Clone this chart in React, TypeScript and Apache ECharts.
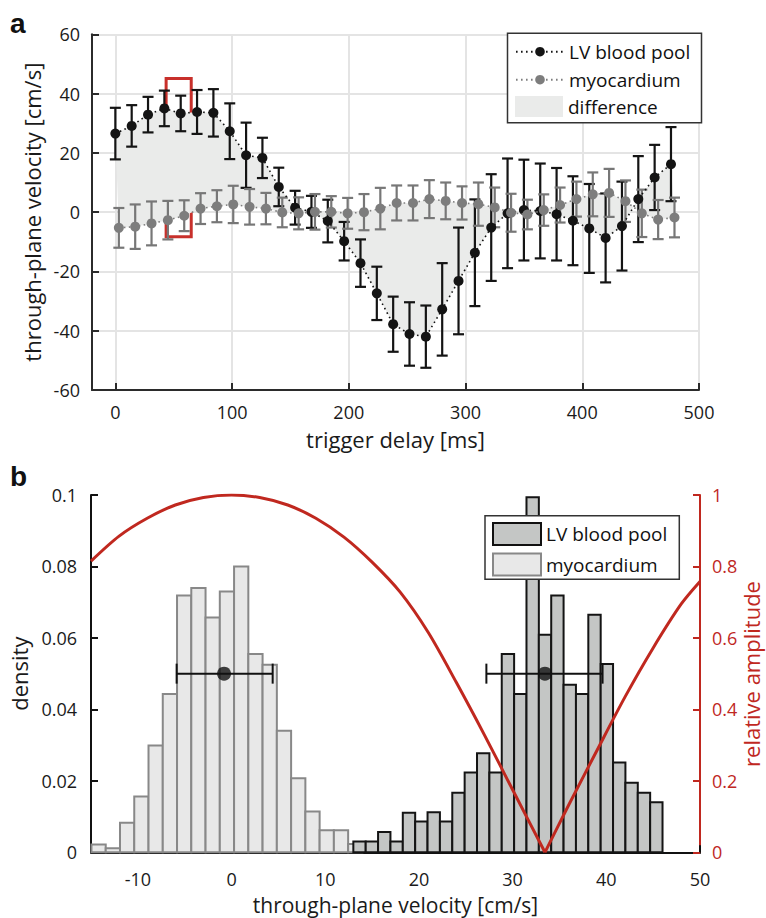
import React, { useEffect, useRef } from "react";
import * as echarts from "echarts";

// ---------- panel a data ----------
const lvDelays = [0, 14, 28, 42, 56, 70, 84, 98, 112, 126, 140, 154, 168, 182, 196, 210, 224, 238, 252, 266, 280, 294, 308, 322, 336, 350, 364, 378, 392, 406, 420, 434, 448, 462, 476];
const lvVelocity = [26.5, 29.1, 32.9, 35.0, 33.3, 33.8, 33.5, 27.3, 19.2, 18.3, 8.5, 1.5, 0.1, -3.0, -9.8, -17.2, -27.4, -37.8, -41.1, -42.0, -32.8, -23.2, -13.7, -5.2, -0.4, 0.7, 0.4, -0.7, -2.9, -5.5, -8.7, -4.7, 4.4, 11.7, 16.2];
const lvError = [8.7, 7.0, 6.0, 6.0, 6.0, 7.4, 8.0, 9.4, 11.0, 6.8, 6.5, 5.7, 5.4, 7.2, 6.5, 8.0, 9.0, 9.3, 10.7, 10.5, 15.6, 18.0, 18.0, 18.0, 18.5, 17.0, 16.0, 15.6, 15.0, 15.0, 15.0, 15.0, 14.5, 11.0, 12.5];
const myoDelays = [3, 17, 31, 45, 59, 73, 87, 101, 115, 129, 143, 157, 171, 185, 199, 213, 227, 241, 255, 269, 283, 297, 311, 325, 339, 353, 367, 381, 395, 409, 423, 437, 451, 465, 479];
const myoVelocity = [-5.3, -4.9, -3.8, -2.7, -1.2, 1.2, 2.0, 2.6, 1.8, 1.2, -0.1, -0.4, 0.1, 0.1, -0.4, 0.0, 1.2, 3.1, 3.1, 4.4, 3.8, 3.1, 2.7, 1.6, -0.2, -0.8, 0.7, 2.4, 4.4, 6.0, 6.5, 3.7, -0.4, -2.5, -1.8];
const myoError = [6.7, 7.5, 7.4, 6.5, 5.2, 5.2, 5.4, 6.3, 6.0, 5.3, 5.0, 5.4, 6.0, 5.3, 5.2, 6.1, 7.0, 5.9, 5.9, 6.4, 6.2, 5.6, 7.3, 6.7, 6.4, 5.0, 5.3, 5.9, 5.9, 7.4, 8.1, 7.0, 8.0, 6.6, 6.7];
const highlightDelay = [43.5, 65];
const highlightVelocity = [45.1, -8.3];

// ---------- panel b data ----------
const lvBinStart = 13.0;
const lvBinWidth = 1.32;
const lvDensity = [0.003, 0.003, 0.0057, 0.003, 0.0111, 0.0086, 0.0112, 0.0086, 0.0167, 0.0223, 0.0277, 0.0223, 0.0555, 0.0443, 0.0994, 0.0609, 0.0719, 0.0469, 0.0443, 0.0665, 0.0527, 0.0251, 0.0195, 0.0167, 0.014];
const myoBinStart = -14.95;
const myoBinWidth = 1.522;
const myoDensity = [0.0022, 0.0011, 0.0083, 0.0156, 0.0299, 0.0443, 0.0719, 0.074, 0.0657, 0.073, 0.08, 0.0555, 0.0525, 0.034, 0.0207, 0.0114, 0.0062, 0.0062, 0.0023];
const lvMean = 33.45, lvLow = 27.2, lvHigh = 39.6;
const myoMean = -0.8, myoLow = -5.86, myoHigh = 4.39;
const markerDensity = 0.05;
const ampLeft: [number, number][] = [[-15, 0.815], [-12, 0.885], [-9, 0.935], [-6, 0.972], [-3, 0.993], [0, 1.0], [3, 0.993], [6, 0.972], [9, 0.935], [12, 0.882], [15, 0.812], [18, 0.728], [21, 0.615], [24, 0.475], [27, 0.328], [30, 0.175], [33.45, 0]];
const ampRight: [number, number][] = [[33.45, 0], [36, 0.133], [39, 0.285], [42, 0.435], [45, 0.572], [48, 0.695], [50, 0.758]];

const FONT = "'Open Sans', 'Noto Sans', sans-serif";
const RED = "#c0281f";
const AXIS = "#2b2b2b";

function errorBarSeries(name: string, xs: number[], vs: number[], es: number[], color: string) {
  return {
    type: "custom",
    name,
    xAxisIndex: 0,
    yAxisIndex: 0,
    silent: true,
    data: xs.map((x, i) => [x, vs[i] - es[i], vs[i] + es[i]]),
    encode: { x: 0, y: [1, 2] },
    renderItem: (_p: any, api: any) => {
      const x = api.value(0);
      const top = api.coord([x, api.value(2)]);
      const bot = api.coord([x, api.value(1)]);
      const hw = 5.5;
      const st = { stroke: color, lineWidth: 2.2 };
      return {
        type: "group",
        children: [
          { type: "line", shape: { x1: top[0], y1: top[1], x2: bot[0], y2: bot[1] }, style: st },
          { type: "line", shape: { x1: top[0] - hw, y1: top[1], x2: top[0] + hw, y2: top[1] }, style: st },
          { type: "line", shape: { x1: bot[0] - hw, y1: bot[1], x2: bot[0] + hw, y2: bot[1] }, style: st },
        ],
      };
    },
  };
}

function histSeries(name: string, start: number, width: number, dens: number[], fill: string, stroke: string, z: number) {
  return {
    type: "custom",
    name,
    xAxisIndex: 1,
    yAxisIndex: 1,
    z,
    silent: true,
    itemStyle: { color: fill, borderColor: stroke },
    data: dens.map((d, i) => [start + i * width, start + (i + 1) * width, d]),
    encode: { x: [0, 1], y: 2 },
    renderItem: (_p: any, api: any) => {
      const p0 = api.coord([api.value(0), api.value(2)]);
      const p1 = api.coord([api.value(1), 0]);
      return {
        type: "rect",
        shape: { x: p0[0], y: p0[1], width: p1[0] - p0[0], height: p1[1] - p0[1] },
        style: { fill, stroke, lineWidth: 2 },
      };
    },
  };
}

function hErrorSeries(name: string, lo: number, hi: number, y: number) {
  return {
    type: "custom",
    name,
    xAxisIndex: 1,
    yAxisIndex: 1,
    z: 6,
    silent: true,
    data: [[lo, hi, y]],
    encode: { x: [0, 1], y: 2 },
    renderItem: (_p: any, api: any) => {
      const a = api.coord([api.value(0), api.value(2)]);
      const b = api.coord([api.value(1), api.value(2)]);
      const hh = 10;
      const st = { stroke: "#111", lineWidth: 2 };
      return {
        type: "group",
        children: [
          { type: "line", shape: { x1: a[0], y1: a[1], x2: b[0], y2: b[1] }, style: st },
          { type: "line", shape: { x1: a[0], y1: a[1] - hh, x2: a[0], y2: a[1] + hh }, style: st },
          { type: "line", shape: { x1: b[0], y1: b[1] - hh, x2: b[0], y2: b[1] + hh }, style: st },
        ],
      };
    },
  };
}

const histNames: Record<string, string> = { histLV: "LV blood pool", histMyo: "myocardium" };

export default function App() {
  const ref = useRef<HTMLDivElement>(null);
  useEffect(() => {
    if (!ref.current) return;
    const chart = echarts.init(ref.current, undefined, { renderer: "svg" });
    const axisLabel = { fontSize: 18, color: "#1a1a1a", fontFamily: FONT };
    const nameStyle = { fontSize: 22, color: "#1a1a1a", fontFamily: FONT };
    const legendText = { fontSize: 19, color: "#111", fontFamily: FONT };
    const option: any = {
      animation: false,
      backgroundColor: "#ffffff",
      textStyle: { fontFamily: FONT },
      grid: [
        { left: 92, right: 67, top: 34.3, bottom: 528, containLabel: false, outerBoundsMode: "none" },
        { left: 91, right: 66, top: 495, bottom: 65.7, containLabel: false, outerBoundsMode: "none" },
      ],
      xAxis: [
        {
          type: "value",
          gridIndex: 0,
          min: -20,
          max: 500,
          splitNumber: 5,
          axisLine: { onZero: false, lineStyle: { color: AXIS, width: 2 } },
          axisTick: { inside: true, length: 7, lineStyle: { color: AXIS, width: 2 } },
          axisLabel: { ...axisLabel, margin: 13, showMinLabel: false },
          splitLine: { show: true, lineStyle: { color: "#e4e4e4", width: 2 } },
          name: "trigger delay [ms]",
          nameLocation: "middle",
          nameGap: 38,
          nameTextStyle: nameStyle,
        },
        {
          type: "value",
          gridIndex: 1,
          min: -15,
          max: 50,
          splitNumber: 6,
          axisLine: { onZero: false, lineStyle: { color: "#111", width: 2 } },
          axisTick: { inside: true, length: 7, lineStyle: { color: "#111", width: 2 } },
          axisLabel: { ...axisLabel, margin: 18, lineHeight: 18, showMinLabel: false },
          splitLine: { show: false },
          name: "through-plane velocity [cm/s]",
          nameLocation: "middle",
          nameGap: 42,
          nameTextStyle: { ...nameStyle, fontSize: 21, lineHeight: 21 },
        },
      ],
      yAxis: [
        {
          type: "value",
          gridIndex: 0,
          min: -60,
          max: 60,
          interval: 20,
          axisLine: { show: true, onZero: false, lineStyle: { color: AXIS, width: 2 } },
          axisTick: { show: true, inside: true, length: 7, lineStyle: { color: AXIS, width: 2 } },
          axisLabel: { ...axisLabel, margin: 12 },
          splitLine: { show: true, lineStyle: { color: "#e4e4e4", width: 2 } },
          name: "through-plane velocity [cm/s]",
          nameLocation: "middle",
          nameGap: 39,
          nameTextStyle: nameStyle,
        },
        {
          type: "value",
          gridIndex: 1,
          min: 0,
          max: 0.1,
          interval: 0.02,
          axisLine: { show: true, onZero: false, lineStyle: { color: "#111", width: 2 } },
          axisTick: { show: true, inside: true, length: 7, lineStyle: { color: "#111", width: 2 } },
          axisLabel: { ...axisLabel, margin: 14 },
          splitLine: { show: false },
          name: "density",
          nameLocation: "middle",
          nameGap: 48,
          nameTextStyle: nameStyle,
        },
        {
          type: "value",
          gridIndex: 1,
          position: "right",
          min: 0,
          max: 1,
          interval: 0.2,
          axisLine: { show: true, onZero: false, lineStyle: { color: RED, width: 2 } },
          axisTick: { show: true, inside: true, length: 7, lineStyle: { color: RED, width: 2 } },
          axisLabel: { ...axisLabel, color: RED, margin: 12 },
          splitLine: { show: false },
        },
      ],
      legend: [
        {
          data: ["LV blood pool", "myocardium"],
          orient: "vertical",
          left: 515,
          top: 41.7,
          padding: 0,
          itemWidth: 48,
          itemHeight: 12,
          itemGap: 8,
          z: 20,
          selectedMode: false,
          textStyle: { ...legendText, lineHeight: 20 },
        },
        {
          data: [{ name: "difference", icon: "rect", itemStyle: { color: "#eaebea", borderWidth: 0 } }],
          orient: "vertical",
          left: 515,
          top: 96,
          padding: 0,
          itemWidth: 48,
          itemHeight: 21,
          z: 20,
          selectedMode: false,
          textStyle: { ...legendText, lineHeight: 21 },
        },
        {
          data: [
            { name: "histLV", icon: "rect", itemStyle: { color: "#c4c6c5", borderColor: "#111", borderWidth: 2 } },
            { name: "histMyo", icon: "rect", itemStyle: { color: "#e8e8e8", borderColor: "#888", borderWidth: 2 } },
          ],
          formatter: (n: string) => histNames[n] || n,
          orient: "vertical",
          left: 492,
          top: 522,
          padding: 0,
          itemWidth: 48,
          itemHeight: 22,
          itemGap: 6.5,
          z: 20,
          selectedMode: false,
          textStyle: { ...legendText, lineHeight: 22 },
        },
      ],
      graphic: [
        { type: "rect", z: 10, shape: { x: 507.5, y: 33.3, width: 194, height: 89.4 }, style: { fill: "#fff", stroke: "#333", lineWidth: 1.5 } },
        { type: "rect", z: 10, shape: { x: 485, y: 515.7, width: 194.3, height: 63.6 }, style: { fill: "#fff", stroke: "#333", lineWidth: 1.5 } },
        { type: "text", z: 10, x: 10, y: 23.5, style: { text: "a", font: "bold 28px 'Liberation Sans', Arial, sans-serif", fill: "#111", verticalAlign: "middle" } },
        { type: "text", z: 10, x: 10, y: 476, style: { text: "b", font: "bold 28px 'Liberation Sans', Arial, sans-serif", fill: "#111", verticalAlign: "middle" } },
        {
          type: "text",
          z: 10,
          x: 751,
          y: 674,
          rotation: Math.PI / 2,
          style: { text: "relative amplitude", font: `22px ${FONT}`, fill: RED, align: "center", verticalAlign: "middle" },
        },
      ],
      series: [
        {
          type: "custom",
          name: "difference",
          xAxisIndex: 0,
          yAxisIndex: 0,
          silent: true,
          z: 1,
          itemStyle: { color: "#eaebea" },
          data: [[0, 0]],
          renderItem: (_p: any, api: any) => {
            const pts: number[][] = [];
            lvDelays.forEach((d, i) => pts.push(api.coord([d, lvVelocity[i]])));
            for (let i = myoDelays.length - 1; i >= 0; i--) pts.push(api.coord([myoDelays[i], myoVelocity[i]]));
            return { type: "polygon", shape: { points: pts }, style: { fill: "#eaebea" } };
          },
        },
        errorBarSeries("lvErr", lvDelays, lvVelocity, lvError, "#141414"),
        {
          type: "line",
          name: "LV blood pool",
          xAxisIndex: 0,
          yAxisIndex: 0,
          z: 3,
          data: lvDelays.map((d, i) => [d, lvVelocity[i]]),
          symbol: "circle",
          symbolSize: 10,
          itemStyle: { color: "#141414" },
          lineStyle: { color: "#141414", width: 1.6, type: [1.6, 3.4] },
          markArea: {
            silent: true,
            label: { show: false },
            itemStyle: { color: "rgba(0,0,0,0)", borderColor: "#c8302b", borderWidth: 3 },
            data: [[{ coord: [highlightDelay[0], highlightVelocity[0]] }, { coord: [highlightDelay[1], highlightVelocity[1]] }]],
          },
        },
        errorBarSeries("myoErr", myoDelays, myoVelocity, myoError, "#777777"),
        {
          type: "line",
          name: "myocardium",
          xAxisIndex: 0,
          yAxisIndex: 0,
          z: 4,
          data: myoDelays.map((d, i) => [d, myoVelocity[i]]),
          symbol: "circle",
          symbolSize: 10,
          itemStyle: { color: "#7d7d7d" },
          lineStyle: { color: "#7d7d7d", width: 1.6, type: [1.6, 3.4] },
        },
        histSeries("histMyo", myoBinStart, myoBinWidth, myoDensity, "#e8e8e8", "#888888", 2),
        histSeries("histLV", lvBinStart, lvBinWidth, lvDensity, "#c4c6c5", "#141414", 3),
        {
          type: "line",
          name: "ampLeft",
          xAxisIndex: 1,
          yAxisIndex: 2,
          z: 5,
          data: ampLeft,
          symbol: "none",
          smooth: 0.3,
          lineStyle: { color: RED, width: 3 },
        },
        {
          type: "line",
          name: "ampRight",
          xAxisIndex: 1,
          yAxisIndex: 2,
          z: 5,
          data: ampRight,
          symbol: "none",
          smooth: 0.3,
          lineStyle: { color: RED, width: 3 },
        },
        hErrorSeries("myoSpread", myoLow, myoHigh, markerDensity),
        hErrorSeries("lvSpread", lvLow, lvHigh, markerDensity),
        {
          type: "scatter",
          name: "means",
          xAxisIndex: 1,
          yAxisIndex: 1,
          z: 7,
          symbolSize: 14,
          itemStyle: { color: "#111" },
          data: [[myoMean, markerDensity], [lvMean, markerDensity]],
        },
      ],
    };
    chart.setOption(option);
    return () => chart.dispose();
  }, []);
  return <div ref={ref} style={{ position: "fixed", left: 0, top: 0, width: 766, height: 918, background: "#fff" }} />;
}
